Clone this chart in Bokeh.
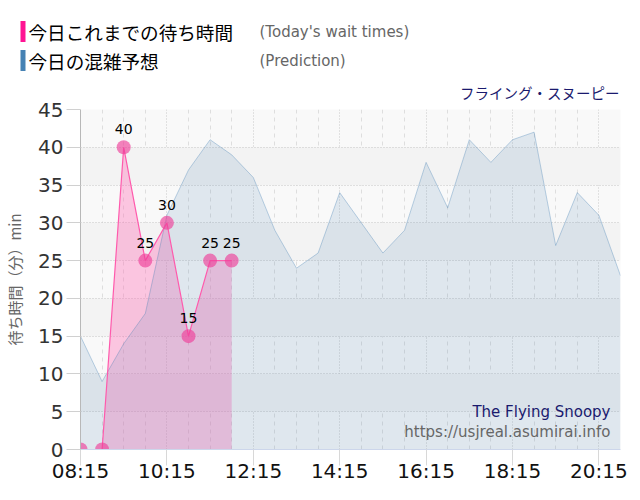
from bokeh.plotting import figure
from bokeh.layouts import column, row
from bokeh.models import FixedTicker, Label, ColumnDataSource, Range1d, Plot
from bokeh.core.properties import value
from bokeh.embed import file_html
from bokeh.resources import INLINE

# ---- data ----
pred_times = ["08:15", "08:45", "09:15", "09:45", "10:15", "10:45", "11:15", "11:45",
              "12:15", "12:45", "13:15", "13:45", "14:15", "14:45", "15:15", "15:45",
              "16:15", "16:45", "17:15", "17:45", "18:15", "18:45", "19:15", "19:45",
              "20:15", "20:45"]
pred_values = [15, 9, 14, 18, 31, 37, 41, 39,
               36, 29, 24, 26, 34, 30, 26, 29,
               38, 32, 41, 38, 41, 42, 27, 34,
               31, 23]
actual_times = ["08:15", "08:45", "09:15", "09:45", "10:15", "10:45", "11:15", "11:45"]
actual_values = [0, 0, 40, 25, 30, 15, 25, 25]
x_tick_labels = ["08:15", "10:15", "12:15", "14:15", "16:15", "18:15", "20:15"]
y_ticks = [0, 5, 10, 15, 20, 25, 30, 35, 40, 45]
legend_jp = ["今日これまでの待ち時間", "今日の混雑予想"]
legend_en = ["(Today's wait times)", "(Prediction)"]
legend_colors = ["#ff1493", "#4682b4"]
title_text = "フライング・スヌーピー"
y_label = "待ち時間（分）min"


def to_min(t):
    h, m = t.split(":")
    return int(h) * 60 + int(m)


pred_x = [to_min(t) for t in pred_times]
act_x = [to_min(t) for t in actual_times]
major_x = [to_min(t) for t in x_tick_labels]
minor_x = [x for x in pred_x if x not in major_x]

pred_src = ColumnDataSource(dict(x=pred_x, y=pred_values))
act_src = ColumnDataSource(dict(x=act_x, y=actual_values))
lab_src = ColumnDataSource(dict(
    x=[x for x, v in zip(act_x, actual_values) if v > 0],
    y=[v for v in actual_values if v > 0],
    t=[str(v) for v in actual_values if v > 0]))

JP = "Noto Sans CJK JP"
LAT = "DejaVu Sans"
HAS_FA = "frame_align" in Plot.properties()

# ---- header (legend + title), pixel-based canvas ----
HEAD_H = 109
OVERLAP = 10
h = figure(width=640, height=HEAD_H, x_range=Range1d(0, 640), y_range=Range1d(HEAD_H, 0),
           output_backend="svg", toolbar_location=None, min_border=0,
           x_axis_location=None, y_axis_location=None, outline_line_color=None,
           background_fill_alpha=0, border_fill_alpha=0)
h.margin = (0, 0, -OVERLAP, 0)
h.xgrid.visible = False
h.ygrid.visible = False
rows_y = [31, 60]
h.quad(left=[20, 20], right=[25, 25], top=[r - 10.5 for r in rows_y],
       bottom=[r + 10.5 for r in rows_y], fill_color=legend_colors, line_color=None)
h.text(x=[28, 28], y=rows_y, text=legend_jp, text_font=value(JP), text_font_size="18.6px",
       text_color="#000000", text_baseline="middle", text_align="left")
h.text(x=[259, 259], y=rows_y, text=legend_en, text_font=value(LAT), text_font_size="15px",
       text_color="#666666", text_baseline="middle", text_align="left")
h.text(x=[619], y=[92], text=[title_text], text_font=value(JP), text_font_size="14.5px",
       text_color="#1a1a6e", text_baseline="middle", text_align="right")

# ---- main chart ----
p = figure(width=640, height=500 - HEAD_H + OVERLAP, x_range=Range1d(pred_x[0], pred_x[-1]),
           y_range=Range1d(0, 45), output_backend="svg", toolbar_location=None,
           min_border_left=80, min_border_right=20, min_border_top=OVERLAP,
           min_border_bottom=51, background_fill_color="#f9f9f9",
           border_fill_alpha=0, outline_line_color=None)

if HAS_FA:
    h.frame_align = False
    p.frame_align = False

p.xaxis.ticker = FixedTicker(ticks=major_x, minor_ticks=minor_x)
p.xaxis.major_label_overrides = {x: l for x, l in zip(major_x, x_tick_labels)}
p.xaxis.major_label_text_font = LAT
p.xaxis.major_label_text_font_size = "20px"
p.xaxis.major_label_text_color = "#111111"
p.xaxis.axis_line_color = "#ccd6eb"
p.xaxis.major_tick_line_color = "#d8d8d8"
p.xaxis.major_tick_in = 0
p.xaxis.major_tick_out = 16
p.xaxis.minor_tick_line_color = None
p.xaxis.major_label_standoff = -7

p.yaxis.ticker = FixedTicker(ticks=y_ticks)
p.yaxis.major_label_text_font = LAT
p.yaxis.major_label_text_font_size = "20px"
p.yaxis.major_label_text_color = "#333333"
p.yaxis.axis_line_color = "#b8b8b8"
p.yaxis.major_tick_line_color = "#d0d0d0"
p.yaxis.major_tick_in = 0
p.yaxis.major_tick_out = 14
p.yaxis.minor_tick_line_color = None
p.yaxis.major_label_standoff = 3
p.yaxis.axis_label = y_label
p.yaxis.axis_label_text_font = JP
p.yaxis.axis_label_text_font_size = "15px"
p.yaxis.axis_label_text_font_style = "normal"
p.yaxis.axis_label_text_color = "#666666"
p.yaxis.axis_label_standoff = 10

p.ygrid.grid_line_color = "#c4c4c4"
p.ygrid.grid_line_dash = "1 2"
p.ygrid.band_fill_color = "#f3f3f3"
p.ygrid.band_fill_alpha = 1
p.xgrid.grid_line_color = "#c8c8c8"
p.xgrid.grid_line_dash = "1 2"
p.xgrid.minor_grid_line_color = "#dedede"
p.xgrid.minor_grid_line_dash = "4 4"

p.varea(x="x", y1=0, y2="y", source=act_src, fill_color="#ff69b4", fill_alpha=0.36)
p.varea(x="x", y1=0, y2="y", source=pred_src, fill_color="#4682b4", fill_alpha=0.14)
p.line(x="x", y="y", source=pred_src, line_color="#4682b4", line_alpha=0.35, line_width=1)
p.line(x="x", y="y", source=act_src, line_color="#ff5aac", line_width=1.2)
p.scatter(x="x", y="y", source=act_src, size=14, fill_color="#ee3f9a", fill_alpha=0.65,
          line_color=None)
p.text(x="x", y="y", text="t", source=lab_src, text_font=value(LAT),
       text_font_size="14px", text_align="center", text_baseline="middle",
       y_offset=-18, text_color="#000000")

# watermark inside the frame (frame-relative screen coords)
p.add_layout(Label(x=530, y=38, x_units="screen", y_units="screen",
                   text="The Flying Snoopy", text_font=LAT, text_font_size="15px",
                   text_color="#1a1a6e", text_align="right", text_baseline="middle"))
p.add_layout(Label(x=530, y=18, x_units="screen", y_units="screen",
                   text="https://usjreal.asumirai.info", text_font=LAT,
                   text_font_size="15px", text_color="#666666", text_align="right",
                   text_baseline="middle"))

layout = column(row(h), p, spacing=0)
open("out.html", "w").write(file_html(layout, INLINE))
